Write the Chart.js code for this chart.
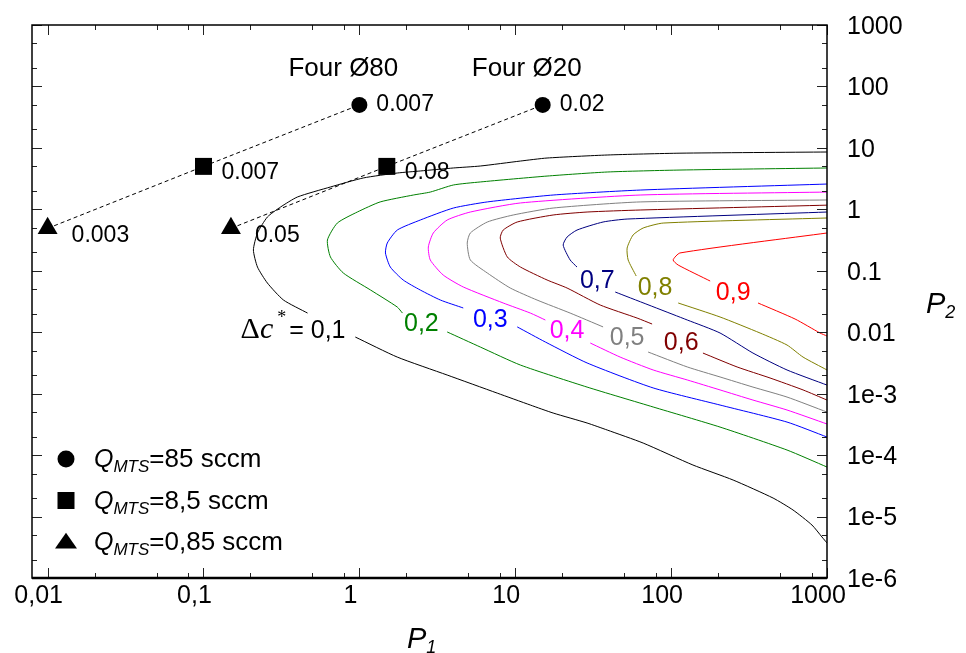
<!DOCTYPE html>
<html>
<head>
<meta charset="utf-8">
<title>Δc* contours</title>
<script src="https://cdn.jsdelivr.net/npm/chart.js@4.4.1/dist/chart.umd.min.js"></script>
<style>
    html, body { margin: 0; padding: 0; background: #ffffff; }
    #wrap { width: 966px; height: 653px; }
</style>
</head>
<body>
<div id="wrap"><canvas id="chart" width="966" height="653"></canvas></div>
<script>
// Axes
const xTicks = [0.01, 0.1, 1, 10, 100, 1000];
const xTickLabels = ["0,01", "0,1", "1", "10", "100", "1000"];
const yTicks = [1e-6, 1e-5, 1e-4, 1e-3, 0.01, 0.1, 1, 10, 100, 1000];
const yTickLabels = ["1e-6", "1e-5", "1e-4", "1e-3", "0.01", "0.1", "1", "10", "100", "1000"];
const xMinor = [2, 5, 8];
const yMinor = [2, 5];

// Contours Δc* (P1, P2), null = break for the inline label
const c1P1 = [1000, 114, 38.9, 16.0, 10.8, 5.97, 4.01, 2.46, 1.75, 1.06, 0.652, 0.401, 0.312, 0.257, 0.222, 0.209, 0.222, 0.257, 0.326, 0.465, null, 0.942, 1.75, 3.66, 7.67, 12.5, 17.5, 28.9, 38.9, 66.2, 138, 250, 451, 605, 801, 929, 1000];
const c1P2 = [8.57, 8.2, 7.66, 6.84, 6.11, 5.07, 4.71, 4.21, 3.90, 3.24, 2.31, 1.59, 1.09, 0.750, 0.412, 0.218, 0.115, 0.0632, 0.0334, 0.0205, null, 0.00835, 0.00394, 0.00201, 0.00102, 6.53e-4, 4.84e-4, 3.33e-4, 2.56e-4, 1.57e-4, 6.9e-5, 3.93e-5, 2.0e-5, 1.28e-5, 7.28e-6, 4.64e-6, 3.71e-6];

const c2P1 = [1000, 114, 38.9, 16.0, 5.97, 4.01, 2.85, 2.22, 1.36, 0.970, 0.722, 0.624, 0.652, 0.789, 1.18, 1.75, 1.89, null, 3.66, 5.97, 10.8, 28.9, 76.7, 206, 554, 1000];
const c2P2 = [4.71, 4.36, 4.05, 3.48, 2.79, 2.49, 1.91, 1.71, 1.32, 0.904, 0.598, 0.317, 0.168, 0.092, 0.0486, 0.0257, 0.0205, null, 0.0101, 0.00574, 0.00292, 0.00128, 6.07e-4, 2.86e-4, 1.21e-4, 6.4e-5];

const c3P1 = [1000, 63.3, 17.5, 6.62, 4.01, 2.46, 1.75, 1.51, 1.47, 1.58, 1.91, 2.46, 3.31, 4.64, null, 10.3, 15.6, 28.9, 76.7, 206, 554, 1000];
const c3P2 = [2.58, 2.06, 1.71, 1.32, 1.05, 0.670, 0.460, 0.283, 0.195, 0.115, 0.0708, 0.0486, 0.0334, 0.0248, null, 0.0122, 0.00693, 0.00316, 0.00124, 6.53e-4, 3.45e-4, 1.97e-4];

const c4P1 = [1000, 63.3, 10.8, 5.15, 3.66, 2.98, 2.77, 2.85, 3.45, 4.64, 8.37, 12.5, 15.6, null, 30.3, 47.1, 76.7, 127, 206, 335, 554, 1000];
const c4P2 = [1.91, 1.71, 1.27, 0.904, 0.670, 0.412, 0.244, 0.150, 0.0853, 0.0545, 0.0299, 0.0205, 0.0158, null, 0.00667, 0.00394, 0.00243, 0.00167, 0.00115, 7.87e-4, 5.42e-4, 3.21e-4];

const c5P1 = [1000, 63.3, 17.5, 9.71, 6.62, 5.15, 4.92, 5.15, 6.62, 9.29, 13.8, 22.5, 36.6, null, 71.2, 127, 206, 335, 554, 1000];
const c5P2 = [1.42, 1.32, 1.05, 0.809, 0.622, 0.412, 0.283, 0.150, 0.092, 0.0524, 0.0334, 0.0205, 0.0122, null, 0.00476, 0.00272, 0.00187, 0.00128, 8.81e-4, 5.02e-4];

const c6P1 = [1000, 63.3, 28.9, 17.5, 10.3, 8.37, 8.01, 8.89, 10.8, 16.0, 21.5, 35.1, 60.5, 75.5, null, 160, 265, 431, 702, 1000];
const c6P2 = [1.17, 0.975, 0.904, 0.809, 0.622, 0.460, 0.341, 0.168, 0.115, 0.0708, 0.0524, 0.0277, 0.0170, 0.0136, null, 0.00458, 0.00272, 0.00180, 0.00115, 7.87e-4];

const c7P1 = [1000, 52.2, 36.6, 24.9, 21.5, 20.3, 22.5, 24.9, null, 43.8, 127, 206, 335, 554, 1000];
const c7P2 = [0.904, 0.695, 0.622, 0.460, 0.354, 0.262, 0.150, 0.115, null, 0.0451, 0.0158, 0.00971, 0.00458, 0.00243, 0.00138];

const c8P1 = [1000, 88.9, 66.2, 57.0, 52.2, 53.0, 59.7, null, 111, 206, 372, 554, 702, 1000];
const c8P2 = [0.723, 0.598, 0.497, 0.382, 0.234, 0.150, 0.0822, null, 0.0299, 0.0177, 0.00971, 0.00619, 0.00394, 0.00243];

const c9P1 = [1000, 114, 103, 111, 178, null, 361, 624, 902, 1000];
const c9P2 = [0.412, 0.195, 0.150, 0.124, 0.0681, null, 0.0299, 0.0164, 0.00971, 0.00867];

const contourP1 = [c1P1, c2P1, c3P1, c4P1, c5P1, c6P1, c7P1, c8P1, c9P1];
const contourP2 = [c1P2, c2P2, c3P2, c4P2, c5P2, c6P2, c7P2, c8P2, c9P2];
const levels = ["0,1", "0,2", "0,3", "0,4", "0,5", "0,6", "0,7", "0,8", "0,9"];
const levelColors = ["#000000", "#008000", "#0000ff", "#ff00ff", "#808080", "#800000", "#000080", "#808000", "#ff0000"];
// inline label anchors (P1, P2), level 0,1 is written as "Δc* = 0,1"
const levelLabelP1 = [0.173, 2.50, 6.92, 21.5, 52.2, 116, 33.6, 78.9, 250];
const levelLabelP2 = [0.0118, 0.0136, 0.0158, 0.0105, 0.00805, 0.00667, 0.0681, 0.0524, 0.0434];

// Furnace points: triangle 0,85 / square 8,5 / circle 85 sccm
const furnaces = ["Four Ø80", "Four Ø20"];
const f80P1 = [0.01, 0.1, 1.0];
const f80P2 = [0.49, 5.0, 50];
const f20P1 = [0.15, 1.5, 15];
const f20P2 = [0.49, 5.0, 50];
const f80Notes = ["0.003", "0.007", "0.007"];
const f20Notes = ["0.05", "0.08", "0.02"];
const pointStyles = ["triangle", "rect", "circle"];
const pointSizes = [11.5, 12, 8];

// Legend
const legendStyles = ["circle", "rect", "triangle"];
const legendFlows = ["=85 sccm", "=8,5 sccm", "=0,85 sccm"];

const SANS = '"Liberation Sans", Arial, sans-serif';
const SERIF = '"Liberation Serif", "Times New Roman", serif';

function toPoints(p1, p2) {
    return p1.map((v, i) => ({ x: v, y: p2[i] }));
}

const datasets = [];
[[f80P1, f80P2], [f20P1, f20P2]].forEach((f, i) => {
    datasets.push({
        label: furnaces[i],
        data: toPoints(f[0], f[1]),
        showLine: true,
        borderColor: "#000",
        borderWidth: 1,
        borderDash: [4, 3],
        backgroundColor: "#000",
        pointStyle: pointStyles,
        pointRadius: pointSizes,
        pointBorderWidth: 0,
        tension: 0
    });
});
contourP1.forEach((p1, i) => {
    datasets.push({
        label: "Δc* = " + levels[i],
        data: toPoints(p1, contourP2[i]),
        showLine: true,
        spanGaps: false,
        borderColor: levelColors[i],
        borderWidth: 1,
        pointRadius: 0,
        tension: 0.2
    });
});

function drawMarker(ctx, style, x, y, r) {
    ctx.beginPath();
    if (style === "circle") {
        ctx.arc(x, y, r, 0, Math.PI * 2);
    } else if (style === "rect") {
        ctx.rect(x - r, y - r, 2 * r, 2 * r);
    } else {
        ctx.moveTo(x, y - r * 0.85);
        ctx.lineTo(x + r, y + r * 0.6);
        ctx.lineTo(x - r, y + r * 0.6);
        ctx.closePath();
    }
    ctx.fill();
}

// Inward ticks on all four sides and the frame
const frameTicks = {
    id: "frameTicks",
    afterDraw(chart) {
        const { ctx, chartArea: a, scales } = chart;
        const xs = scales.x, ys = scales.y;
        ctx.save();
        ctx.strokeStyle = "#222";
        ctx.lineWidth = 1;
        ctx.beginPath();
        xTicks.forEach(t => {
            [1].concat(xMinor).forEach(m => {
                const v = t * m;
                if (v < xs.min || v > xs.max * 1.0001) return;
                const px = Math.round(xs.getPixelForValue(v)) + 0.5;
                const len = m === 1 ? 10 : 5;
                ctx.moveTo(px, a.bottom); ctx.lineTo(px, a.bottom - len);
                ctx.moveTo(px, a.top); ctx.lineTo(px, a.top + len);
            });
        });
        yTicks.forEach(t => {
            [1].concat(yMinor).forEach(m => {
                const v = t * m;
                if (v < ys.min || v > ys.max * 1.0001) return;
                const py = Math.round(ys.getPixelForValue(v)) + 0.5;
                const len = m === 1 ? 10 : 5;
                ctx.moveTo(a.left, py); ctx.lineTo(a.left + len, py);
                ctx.moveTo(a.right, py); ctx.lineTo(a.right - len, py);
            });
        });
        ctx.stroke();
        ctx.strokeStyle = "#000";
        ctx.lineWidth = 1.5;
        ctx.strokeRect(a.left, a.top, a.right - a.left, a.bottom - a.top);
        ctx.lineWidth = 2.5;
        ctx.beginPath();
        ctx.moveTo(a.left, a.bottom); ctx.lineTo(a.right, a.bottom);
        ctx.stroke();
        ctx.restore();
    }
};

// Texts: contour labels, point notes, furnace names, legend, axis titles
const annotate = {
    id: "annotate",
    afterDraw(chart) {
        const { ctx, scales } = chart;
        const xs = scales.x, ys = scales.y;
        ctx.save();
        ctx.textBaseline = "middle";
        ctx.textAlign = "center";
        ctx.font = "25px " + SANS;
        for (let i = 1; i < levels.length; i++) {
            ctx.fillStyle = levelColors[i];
            ctx.fillText(levels[i], xs.getPixelForValue(levelLabelP1[i]), ys.getPixelForValue(levelLabelP2[i]));
        }

        // Δc* = 0,1
        let lx = xs.getPixelForValue(levelLabelP1[0]);
        const ly = ys.getPixelForValue(levelLabelP2[0]) + 10;
        ctx.fillStyle = "#000";
        ctx.textAlign = "left";
        ctx.textBaseline = "alphabetic";
        ctx.font = "30px " + SERIF;
        ctx.fillText("Δ", lx, ly);
        lx += ctx.measureText("Δ").width;
        ctx.font = "italic 30px " + SERIF;
        ctx.fillText("c", lx, ly);
        lx += ctx.measureText("c").width + 4;
        ctx.font = "18px " + SERIF;
        ctx.fillText("*", lx, ly - 15);
        lx += ctx.measureText("*").width + 3;
        ctx.font = "25px " + SANS;
        ctx.fillText("=", lx, ly);
        lx += ctx.measureText("= ").width;
        ctx.fillText("0,1", lx, ly);

        // notes beside points and furnace names
        const notes = [f80Notes, f20Notes];
        const noteDx = [24, 18, 17];
        const noteDy = [7, 6, 0];
        [0, 1].forEach(d => {
            const meta = chart.getDatasetMeta(d);
            ctx.font = "23px " + SANS;
            ctx.textBaseline = "middle";
            ctx.textAlign = "left";
            meta.data.forEach((pt, j) => {
                ctx.fillText(notes[d][j], pt.x + noteDx[j], pt.y + noteDy[j]);
            });
            const top = meta.data[2];
            ctx.font = "26px " + SANS;
            ctx.textAlign = "center";
            ctx.fillText(furnaces[d], top.x - 16, top.y - 36);
        });

        // legend
        legendStyles.forEach((s, i) => {
            const base = 467 + i * 41.5;
            drawMarker(ctx, s, 66, base - 8, s === "circle" ? 8.5 : (s === "rect" ? 8.5 : 11));
            ctx.textAlign = "left";
            ctx.textBaseline = "alphabetic";
            let tx = 94;
            ctx.font = "italic 25px " + SANS;
            ctx.fillText("Q", tx, base);
            tx += ctx.measureText("Q").width;
            ctx.font = "italic 17px " + SANS;
            ctx.fillText("MTS", tx, base + 5);
            tx += ctx.measureText("MTS").width;
            ctx.font = "26px " + SANS;
            ctx.fillText(legendFlows[i], tx, base);
        });

        // axis titles
        ctx.font = "italic 29px " + SANS;
        ctx.fillText("P", 407, 648);
        let w = ctx.measureText("P").width;
        ctx.font = "italic 18px " + SANS;
        ctx.fillText("1", 407 + w, 653);
        ctx.font = "italic 29px " + SANS;
        ctx.fillText("P", 926, 313);
        w = ctx.measureText("P").width;
        ctx.font = "italic 18px " + SANS;
        ctx.fillText("2", 926 + w, 318);
        ctx.restore();
    }
};

const whiteBg = {
    id: "whiteBg",
    beforeDraw(chart) {
        const ctx = chart.ctx;
        ctx.save();
        ctx.fillStyle = "#fff";
        ctx.fillRect(0, 0, chart.width, chart.height);
        ctx.restore();
    }
};

new Chart(document.getElementById("chart"), {
    type: "scatter",
    data: { datasets: datasets },
    options: {
        responsive: false,
        devicePixelRatio: 1,
        animation: false,
        layout: { padding: { left: 32, top: 25, right: 0, bottom: 0 } },
        plugins: {
            legend: { display: false },
            tooltip: { enabled: false }
        },
        scales: {
            x: {
                type: "logarithmic",
                min: 0.00794,
                max: 1000,
                grid: { display: false, tickLength: 3 },
                border: { display: false },
                afterBuildTicks: scale => { scale.ticks = xTicks.map(v => ({ value: v })); },
                afterFit: scale => { scale.height = 75; },
                ticks: {
                    autoSkip: false,
                    maxRotation: 0,
                    padding: 0,
                    labelOffset: -9,
                    color: "#000",
                    font: { family: SANS, size: 25 },
                    callback: (v, i) => xTickLabels[i]
                }
            },
            y: {
                type: "logarithmic",
                position: "right",
                min: 1e-6,
                max: 1000,
                grid: { display: false, tickLength: 10 },
                border: { display: false },
                afterBuildTicks: scale => { scale.ticks = yTicks.map(v => ({ value: v })); },
                afterFit: scale => { scale.width = 139; },
                ticks: {
                    autoSkip: false,
                    padding: 10,
                    labelOffset: 2,
                    color: "#000",
                    font: { family: SANS, size: 25 },
                    callback: (v, i) => yTickLabels[i]
                }
            }
        }
    },
    plugins: [whiteBg, frameTicks, annotate]
});
</script>
</body>
</html>
